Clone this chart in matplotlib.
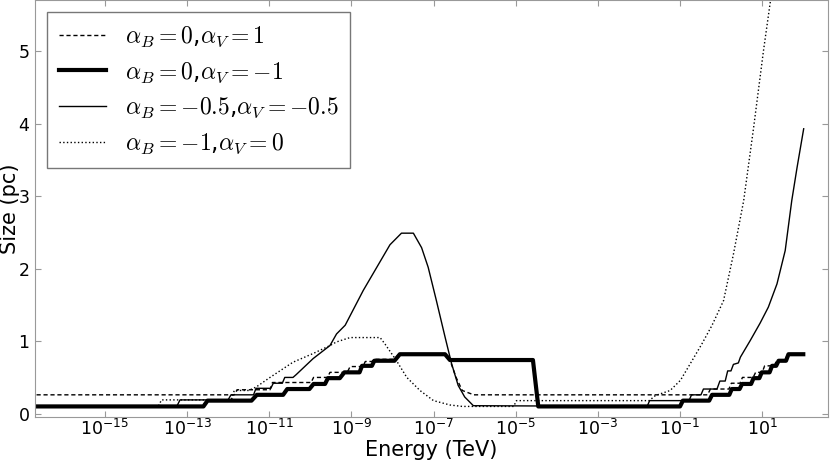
import numpy as np
import matplotlib
matplotlib.use("Agg")
import matplotlib.pyplot as plt
from matplotlib.ticker import FixedLocator, NullLocator

# log10(E / TeV) and size (pc)
logE_b0_v1 = [-17, -11.85, -11.78, -10.98, -10.92, -9.98, -9.92, -9.58, -9.52,
              -9.10, -9.03, -8.72, -8.66, -8.50, -8.45, -7.95, -7.85, -6.72,
              -6.60, -6.45, -6.30, -6.02, -0.33, -0.26, 0.19, 0.25, 0.46, 0.52,
              0.78, 0.84, 1.00, 1.06, 1.29, 1.35, 1.55, 1.61, 2.0]
size_b0_v1 = [0.26, 0.26, 0.33, 0.33, 0.43, 0.43, 0.50, 0.50, 0.57,
              0.57, 0.65, 0.65, 0.72, 0.72, 0.75, 0.75, 0.82, 0.82,
              0.74, 0.50, 0.32, 0.26, 0.26, 0.34, 0.34, 0.42, 0.42, 0.50,
              0.50, 0.57, 0.57, 0.66, 0.66, 0.73, 0.73, 0.81, 0.81]

logE_b0_vm1 = [-17, -12.60, -12.50, -11.43, -11.30, -10.66, -10.56, -10.02, -9.92,
               -9.64, -9.57, -9.28, -9.17, -8.80, -8.74, -8.50, -8.44, -7.95,
               -7.82, -6.72, -6.60, -4.58, -4.45, -1.00, -0.93, -0.29, -0.22,
               0.20, 0.26, 0.45, 0.51, 0.73, 0.79, 0.93, 0.99, 1.18, 1.24,
               1.34, 1.40, 1.58, 1.64, 2.0]
size_b0_vm1 = [0.10, 0.10, 0.18, 0.18, 0.26, 0.26, 0.34, 0.34, 0.41,
               0.41, 0.49, 0.49, 0.57, 0.57, 0.66, 0.66, 0.73, 0.73,
               0.82, 0.82, 0.74, 0.74, 0.10, 0.10, 0.18, 0.18, 0.26,
               0.26, 0.34, 0.34, 0.41, 0.41, 0.49, 0.49, 0.57, 0.57, 0.66,
               0.66, 0.73, 0.73, 0.82, 0.82]

logE_b05_v05 = [-17, -13.25, -13.17, -12.00, -11.93, -11.38, -11.32, -10.96, -10.90,
                -10.68, -10.62, -10.42, -10.34, -9.93, -9.52, -9.36, -9.15, -8.71,
                -8.06, -7.78, -7.49, -7.29, -7.13, -6.93, -6.72, -6.56, -6.40,
                -6.24, -6.03, -1.80, -1.74, -0.78, -0.72, -0.49, -0.43, -0.10,
                -0.03, 0.10, 0.16, 0.24, 0.30, 0.42, 0.47, 0.71, 0.95, 1.15,
                1.36, 1.56, 1.72, 1.85, 2.01]
size_b05_v05 = [0.10, 0.10, 0.19, 0.19, 0.26, 0.26, 0.35, 0.35, 0.42,
                0.42, 0.50, 0.50, 0.54, 0.76, 0.94, 1.10, 1.22, 1.70,
                2.33, 2.49, 2.49, 2.29, 2.02, 1.56, 1.06, 0.69, 0.39,
                0.23, 0.11, 0.10, 0.18, 0.18, 0.26, 0.26, 0.34, 0.34,
                0.45, 0.45, 0.59, 0.59, 0.68, 0.70, 0.78, 1.01, 1.25, 1.47,
                1.79, 2.25, 2.94, 3.40, 3.93]

logE_b1_v0 = [-17, -13.70, -13.62, -11.92, -11.85, -11.50, -11.31, -10.98, -10.42,
              -9.93, -9.52, -9.36, -9.03, -8.30, -8.18, -7.90, -7.65, -7.33,
              -7.00, -6.60, -6.30, -5.05, -4.98, -1.75, -1.60, -1.24, -0.99,
              -0.75, -0.47, -0.22, 0.06, 0.30, 0.55, 0.79, 1.03, 1.20, 1.35]
size_b1_v0 = [0.10, 0.10, 0.19, 0.19, 0.32, 0.32, 0.37, 0.50, 0.71,
              0.83, 0.94, 0.99, 1.05, 1.05, 0.96, 0.73, 0.50, 0.32,
              0.18, 0.12, 0.10, 0.10, 0.18, 0.18, 0.25, 0.32, 0.46,
              0.69, 0.96, 1.22, 1.56, 2.20, 2.94, 3.94, 5.00, 5.69, 6.30]

labels = [r'$\alpha_B=0$,$\alpha_V=1$',
          r'$\alpha_B=0$,$\alpha_V=-1$',
          r'$\alpha_B=-0.5$,$\alpha_V=-0.5$',
          r'$\alpha_B=-1$,$\alpha_V=0$']
xtick_exp = [-15, -13, -11, -9, -7, -5, -3, -1, 1]

fig = plt.figure(figsize=(8.3, 4.63), dpi=100)
ax = fig.add_axes([0.0422, 0.0987, 0.9554, 0.9003])

ax.plot(10.0 ** np.array(logE_b0_v1), size_b0_v1, 'k--', lw=1.0,
        dashes=(3, 2), label=labels[0])
ax.plot(10.0 ** np.array(logE_b0_vm1), size_b0_vm1, 'k-', lw=3.0, label=labels[1])
ax.plot(10.0 ** np.array(logE_b05_v05), size_b05_v05, 'k-', lw=1.0, label=labels[2])
ax.plot(10.0 ** np.array(logE_b1_v0), size_b1_v0, 'k:', lw=1.0, label=labels[3])

ax.set_xscale('log')
ax.set_xlim(2e-17, 4e2)
ax.set_ylim(-0.05, 5.7)
ax.xaxis.set_major_locator(FixedLocator([10.0 ** e for e in xtick_exp]))
ax.xaxis.set_minor_locator(NullLocator())
ax.set_yticks([0, 1, 2, 3, 4, 5])

for s in ax.spines.values():
    s.set_color('#999999')
ax.tick_params(direction='in', top=True, right=True, color='#999999',
               length=4, labelsize=12.5)
ax.tick_params(axis='x', pad=1)
ax.tick_params(axis='y', pad=4)

ax.set_xlabel('Energy (TeV)', fontsize=15)
ax.set_ylabel('Size (pc)', fontsize=15)
ax.xaxis.set_label_coords(0.5, -0.055)
ax.yaxis.set_label_coords(-0.019, 0.5)

leg = ax.legend(loc='upper left', fontsize=17, fancybox=False, framealpha=1,
                borderaxespad=0.5, handlelength=2.0, labelspacing=0.45,
                borderpad=0.5)
leg.get_frame().set_edgecolor('#777777')
for t in leg.get_texts():
    t.set_math_fontfamily('cm')

fig.savefig('out.png', dpi=100)
